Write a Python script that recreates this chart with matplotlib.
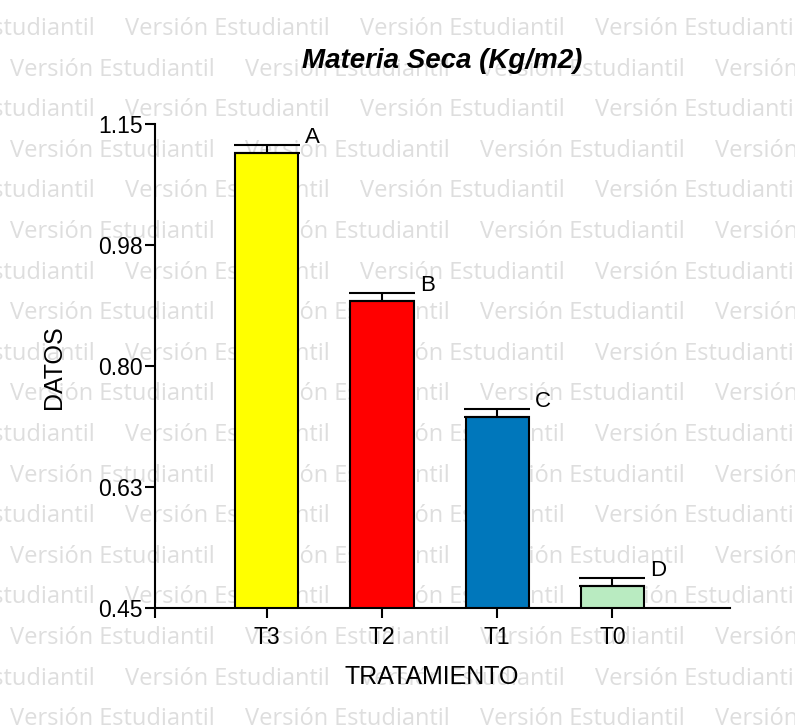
import matplotlib
matplotlib.use('Agg')
import numpy as np
import matplotlib.pyplot as plt

plt.rcParams.update({
    'font.family': ['Liberation Sans', 'DejaVu Sans'],
    'axes.spines.top': False,
    'axes.spines.right': False,
    'axes.linewidth': 1.5,
})

# Data
tratamientos = ['T3', 'T2', 'T1', 'T0']
medias = [1.108, 0.894, 0.726, 0.482]
errores = [0.012, 0.012, 0.012, 0.012]
letras = ['A', 'B', 'C', 'D']
colores = ['#FFFF00', '#FF0000', '#0077BB', '#B9EBC1']

y_ticks = [1.15, 0.975, 0.80, 0.625, 0.45]
y_ticklabels = ['1.15', '0.98', '0.80', '0.63', '0.45']

fig = plt.figure(figsize=(7.95, 7.25), dpi=100)

# "Versión Estudiantil" watermark, behind everything
wm_color = '#DEDEDE'
wm_text = 'Versión Estudiantil'
for k in range(18):
    y_px = 35 + 40.6 * k
    x0 = 10 if k % 2 == 1 else -110
    for j in range(5):
        fig.text((x0 + 235 * j) / 795, 1 - y_px / 725, wm_text,
                 family='Open Sans', fontsize=17, color=wm_color,
                 ha='left', va='baseline', zorder=-5)

ax = fig.add_axes([155 / 795, 1 - 608 / 725, 575 / 795, 484 / 725])
ax.patch.set_alpha(0)

x = np.arange(len(tratamientos))
ax.bar(x, medias, width=0.55, color=colores, edgecolor='black',
       linewidth=1.5, zorder=2)
ax.errorbar(x, medias, yerr=[np.zeros(len(x)), errores], fmt='none',
            ecolor='black', elinewidth=1.5, capsize=24, capthick=1.5,
            zorder=3)

for xi, m, e, l in zip(x, medias, errores, letras):
    ax.annotate(l, (xi + 0.275, m + e), xytext=(4.5, 1),
                textcoords='offset points', ha='left', va='baseline',
                fontsize=16)

ax.set_xlim(-0.97, 4.02)
ax.set_ylim(0.45, 1.15)
ax.set_yticks(y_ticks)
ax.set_yticklabels(y_ticklabels)
ax.set_xticks(x)
ax.set_xticklabels(tratamientos)
ax.set_xticks([-0.97], minor=True)

ax.tick_params(axis='y', which='major', length=7.2, width=1.5, pad=1.5,
               labelsize=16.5)
ax.tick_params(axis='x', which='both', length=7.2, width=1.5, pad=6,
               labelsize=16.5)

ax.set_title('Materia Seca (Kg/m2)', fontsize=20, fontweight='bold',
             fontstyle='italic', pad=40)
ax.set_xlabel('TRATAMIENTO', fontsize=18)
ax.set_ylabel('DATOS', fontsize=18)
ax.xaxis.set_label_coords(0.481, -0.118)
ax.yaxis.set_label_coords(-0.155, 0.498)

fig.savefig('out.png', dpi=100)
